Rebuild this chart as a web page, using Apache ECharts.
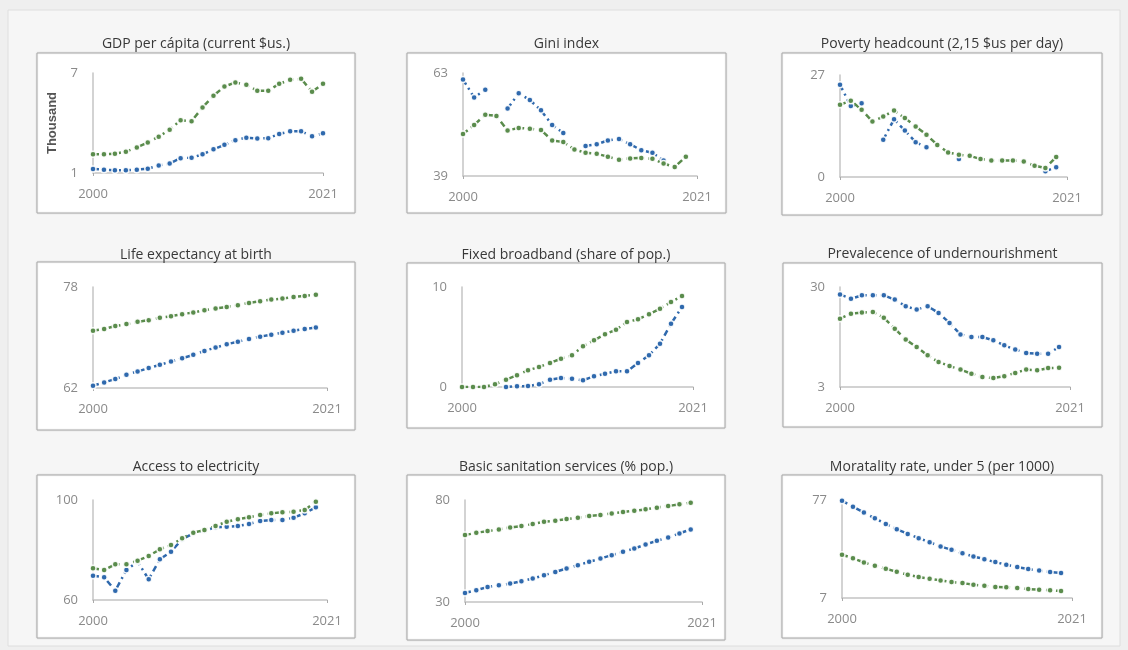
<html>
<head>
    <meta charset="UTF-8">
    <title>Indicators</title>
    <script src="https://cdn.jsdelivr.net/npm/echarts@6.0.0/dist/echarts.min.js"></script>
    <style>
        body { margin: 0; padding: 0; background: #efefef; }
        #echart { width: 1128px; height: 650px; }
    </style>
</head>
<body>
<div id="echart"></div>
<script>
    const years = ['2000','2001','2002','2003','2004','2005','2006','2007','2008','2009','2010',
        '2011','2012','2013','2014','2015','2016','2017','2018','2019','2020','2021'];

    const gdpBlue = [1.24,1.20,1.16,1.16,1.20,1.26,1.45,1.57,1.89,1.92,2.12,2.42,2.69,2.97,3.12,3.07,3.09,3.34,3.50,3.50,3.20,3.38];
    const gdpGreen = [2.12,2.12,2.16,2.28,2.53,2.83,3.18,3.60,4.17,4.11,4.93,5.64,6.19,6.43,6.29,5.94,5.94,6.35,6.59,6.65,5.88,6.35];

    const giniBlue = [61.5,57.3,59.1,null,54.7,58.3,56.7,54.3,50.9,49.0,null,46.0,46.4,47.3,47.6,46.4,45.0,44.4,42.6,null,null,null];
    const giniGreen = [48.8,50.9,53.3,53.0,49.6,50.2,50.0,49.7,47.3,46.9,45.2,44.4,44.2,43.5,42.8,43.1,43.2,43.0,41.9,41.1,43.5,null];

    const povBlue = [24.4,18.8,19.5,null,9.85,15.3,12.3,9.2,7.9,null,null,4.75,null,null,null,null,null,null,null,1.5,2.6,null];
    const povGreen = [19.1,20.2,17.8,14.7,16.0,17.6,15.6,13.4,11.2,8.5,6.5,5.9,5.6,4.75,4.4,4.4,4.4,4.1,3.0,2.4,5.3,null];

    const lifeBlue = [62.37,62.89,63.42,64.10,64.62,65.15,65.67,66.20,66.72,67.25,67.88,68.40,68.92,69.34,69.76,70.13,70.45,70.76,71.08,71.34,71.60,null];
    const lifeGreen = [71.08,71.34,71.81,72.12,72.49,72.75,73.12,73.38,73.70,73.96,74.33,74.59,74.85,75.11,75.48,75.74,76.01,76.16,76.43,76.58,76.79,null];

    const bbBlue = [null,null,null,null,0,0.07,0.1,0.27,0.73,0.9,0.83,0.67,1.07,1.33,1.57,1.57,2.4,3.17,4.33,6.33,8.0,null];
    const bbGreen = [0,0,0,0.27,0.73,1.17,1.67,2.0,2.4,2.83,3.17,4.07,4.67,5.27,5.73,6.5,6.77,7.27,7.83,8.5,9.1,null];

    const undBlue = [28.0,26.85,27.75,27.75,27.75,26.6,24.8,23.9,24.8,23.0,20.3,17.2,16.5,16.5,15.6,14.25,13.1,12.2,12.0,12.0,13.8,null];
    const undGreen = [21.45,22.8,23.1,23.25,21.7,18.75,15.8,13.8,11.55,9.75,8.65,7.7,6.6,5.7,5.4,5.9,6.8,7.7,7.5,8.1,8.2,null];

    const elecBlue = [69.73,69.07,63.73,72.0,75.33,68.27,76.27,79.33,84.27,86.67,87.73,89.07,89.3,89.6,90.4,91.6,92.0,92.0,92.93,94.67,97.07,null];
    const elecGreen = [72.67,72.0,74.27,74.27,75.73,77.6,80.27,82.0,84.67,86.93,88.0,89.6,91.33,92.27,93.07,94.0,94.67,95.07,95.33,96.0,99.33,null];

    const sanBlue = [34.43,35.74,37.38,38.2,39.02,40.16,41.48,43.11,44.75,46.39,48.03,49.67,51.31,52.95,54.59,56.23,58.2,60.0,61.64,63.61,65.57,null];
    const sanGreen = [62.79,63.93,64.75,65.57,66.56,67.21,68.2,69.34,69.84,70.66,71.31,72.13,72.62,73.44,74.1,74.75,75.41,76.23,77.05,77.87,78.69,null];

    const mortBlue = [76.53,72.26,67.99,63.95,59.92,56.12,52.80,49.71,46.86,43.78,41.41,39.04,36.66,34.76,32.63,30.73,29.07,27.64,26.70,25.51,24.80,null];
    const mortGreen = [37.85,35.48,32.39,30.02,27.88,25.75,23.61,21.95,20.76,19.58,18.39,17.68,16.49,15.78,14.83,14.59,14.12,13.41,12.93,12.46,11.98,null];

    const titles = ['GDP per cápita (current $us.)', 'Gini index', 'Poverty headcount (2,15 $us per day)',
        'Life expectancy at birth', 'Fixed broadband (share of pop.)', 'Prevalecence of undernourishment',
        'Access to electricity', 'Basic sanitation services (% pop.)', 'Moratality rate, under 5 (per 1000)'];
    const yRanges = [[1,7],[39,63],[0,27],[62,78],[0,10],[3,30],[60,100],[30,80],[7,77]];
    const blueData = [gdpBlue, giniBlue, povBlue, lifeBlue, bbBlue, undBlue, elecBlue, sanBlue, mortBlue];
    const greenData = [gdpGreen, giniGreen, povGreen, lifeGreen, bbGreen, undGreen, elecGreen, sanGreen, mortGreen];

    // panel layout: box [x, y, w, h], plot [left, top, width, height], title y
    const boxes = [
        [37,53,318,160],[407,53,319,160],[782,53,320,162],
        [37,262,318,168],[407,263,318,165],[783,263,319,164],
        [37,475,318,163],[407,475,318,165],[782,475,320,163]
    ];
    const plots = [
        [93,73,230,100],[463,73,234,103],[840,75,227,102],
        [93,287,234,101],[462,287,231,100],[840,287,230,100],
        [93,500,234,100],[465,500,237,102],[842,500,230,98]
    ];
    const titleY = [44,44,44,255,255,254,467,467,467];

    const BLUE = '#2f69ad';
    const GREEN = '#5a8c4c';
    const FONT = 'Open Sans';

    function lineSeries(data, color, i) {
        return {
            type: 'line',
            xAxisIndex: i,
            yAxisIndex: i,
            data: data,
            symbol: 'circle',
            symbolSize: 6,
            showAllSymbol: true,
            itemStyle: { color: color, borderColor: 'rgba(255,255,255,0.9)', borderWidth: 1.5 },
            lineStyle: { color: color, width: 2.5, type: [6, 4, 2, 4] },
            emphasis: { disabled: true },
            animation: false
        };
    }

    let grid = [], xAxis = [], yAxis = [], series = [], graphic = [];

    graphic.push({
        type: 'rect', z: -10,
        shape: { x: 8, y: 10, width: 1112, height: 636 },
        style: { fill: '#f6f6f6', stroke: '#dedede', lineWidth: 1 }
    });

    for (let i = 0; i < 9; i++) {
        const b = boxes[i], p = plots[i];
        graphic.push({
            type: 'rect', z: -5,
            shape: { x: b[0], y: b[1], width: b[2], height: b[3] },
            style: { fill: '#ffffff', stroke: '#a9a9a9', lineWidth: 1,
                shadowBlur: 2, shadowColor: 'rgba(0,0,0,0.12)' }
        });
        graphic.push({
            type: 'text', z: 5,
            x: b[0] + b[2] / 2, y: titleY[i],
            style: { text: titles[i], fill: '#383838', font: '14px "' + FONT + '"',
                textAlign: 'center', textVerticalAlign: 'middle' }
        });

        grid.push({ left: p[0], top: p[1], width: p[2], height: p[3], containLabel: false });

        xAxis.push({
            type: 'category', gridIndex: i, data: years, boundaryGap: false,
            axisLine: { lineStyle: { color: '#c4c4c4', width: 1.5 } },
            axisTick: { show: true, length: 3, interval: (idx) => idx === 0 || idx === 21,
                lineStyle: { color: '#aaaaaa' } },
            axisLabel: { interval: (idx) => idx === 0 || idx === 21, color: '#8a8a8a',
                fontSize: 13, fontFamily: FONT, margin: 15 },
            splitLine: { show: false }
        });

        const yr = yRanges[i];
        const y = {
            type: 'value', gridIndex: i, min: yr[0], max: yr[1],
            axisLine: { show: true, lineStyle: { color: '#c4c4c4', width: 1.5 } },
            axisTick: { show: false },
            splitLine: { show: false },
            axisLabel: { customValues: [yr[0], yr[1]], color: '#8a8a8a', fontSize: 13,
                fontFamily: FONT, margin: 15 }
        };
        if (i === 0) {
            y.name = 'Thousand';
            y.nameLocation = 'middle';
            y.nameGap = 34;
            y.nameTextStyle = { color: '#555555', fontWeight: 'bold', fontSize: 13,
                fontFamily: 'Liberation Sans' };
        }
        yAxis.push(y);

        series.push(lineSeries(blueData[i], BLUE, i));
        series.push(lineSeries(greenData[i], GREEN, i));
    }

    window.onload = function () {
        const ec = echarts.init(document.getElementById('echart'));
        ec.setOption({
            backgroundColor: '#efefef',
            animation: false,
            grid: grid,
            xAxis: xAxis,
            yAxis: yAxis,
            series: series,
            graphic: graphic
        });
    };
</script>
</body>
</html>
